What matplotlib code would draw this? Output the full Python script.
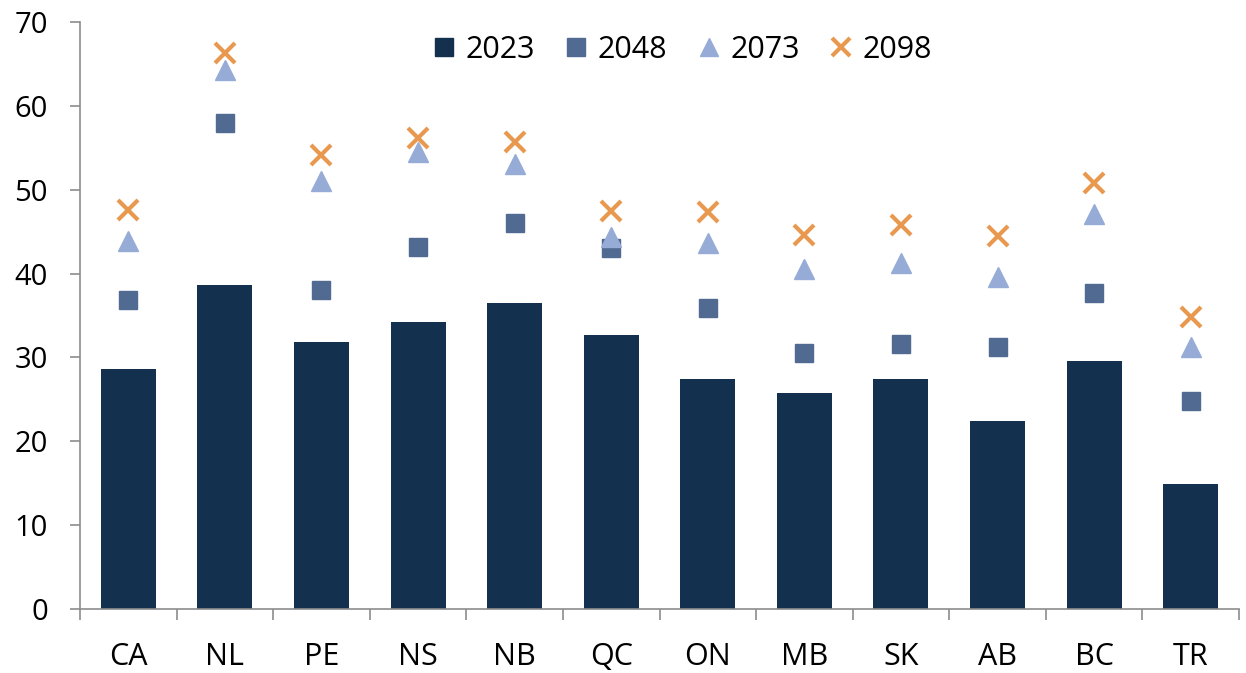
import numpy as np
import matplotlib.pyplot as plt
from matplotlib.lines import Line2D

plt.rcParams['font.family'] = ['Open Sans', 'DejaVu Sans']

# Provinces / regions
regions = ["CA", "NL", "PE", "NS", "NB", "QC", "ON", "MB", "SK", "AB", "BC", "TR"]

# Values by year
y2023 = [28.6, 38.6, 31.8, 34.2, 36.5, 32.7, 27.4, 25.8, 27.4, 22.4, 29.6, 14.9]
y2048 = [36.8, 58.0, 38.0, 43.2, 46.0, 43.0, 35.9, 30.5, 31.6, 31.2, 37.7, 24.8]
y2073 = [43.9, 64.3, 51.0, 54.5, 53.1, 44.4, 43.6, 40.5, 41.3, 39.6, 47.1, 31.2]
y2098 = [47.6, 66.3, 54.1, 56.2, 55.7, 47.5, 47.3, 44.6, 45.8, 44.5, 50.8, 34.8]

x = np.arange(len(regions))
axis_grey = "#8c8c8c"
c23, c48, c73, c98 = "#14304f", "#506a92", "#96abd6", "#e8994f"

fig = plt.figure(figsize=(12.46, 6.73), dpi=100)
ax = fig.add_axes([0.0642, 0.0951, 0.9302, 0.8722])

ax.bar(x, y2023, width=0.57, color=c23, zorder=2)
ax.plot(x, y2048, "s", ms=13.5, color=c48, ls="none", zorder=3)
ax.plot(x, y2073, "^", ms=14, color=c73, ls="none", zorder=4)
ax.plot(x, y2098, "x", ms=14, mew=3, color=c98, ls="none", zorder=5)

ax.set_xlim(-0.5, len(regions) - 0.5)
ax.set_ylim(0, 70)
ax.set_yticks(range(0, 71, 10))
ax.set_xticks(x)
ax.set_xticklabels(regions)
ax.set_xticks(np.arange(-0.5, len(regions), 1), minor=True)

for s in ["top", "right"]:
    ax.spines[s].set_visible(False)
for s in ["left", "bottom"]:
    ax.spines[s].set_color(axis_grey)
    ax.spines[s].set_linewidth(1.2)

ax.tick_params(axis="y", length=7, width=1.2, color=axis_grey, pad=16, labelsize=21)
ax.tick_params(axis="x", which="major", length=0, pad=24, labelsize=22)
ax.tick_params(axis="x", which="minor", length=8, width=1.2, color=axis_grey)

handles = [
    Line2D([], [], marker="s", ms=13, color=c23, ls="none"),
    Line2D([], [], marker="s", ms=13, color=c48, ls="none"),
    Line2D([], [], marker="^", ms=13, color=c73, ls="none"),
    Line2D([], [], marker="x", ms=13, mew=3, color=c98, ls="none"),
]
ax.legend(handles, ["2023", "2048", "2073", "2098"], loc="upper center",
          bbox_to_anchor=(0.518, 1.025), ncol=4, frameon=False, fontsize=22,
          handletextpad=0.2, columnspacing=0.85, handlelength=1.0)

fig.savefig("out.png", dpi=100)
